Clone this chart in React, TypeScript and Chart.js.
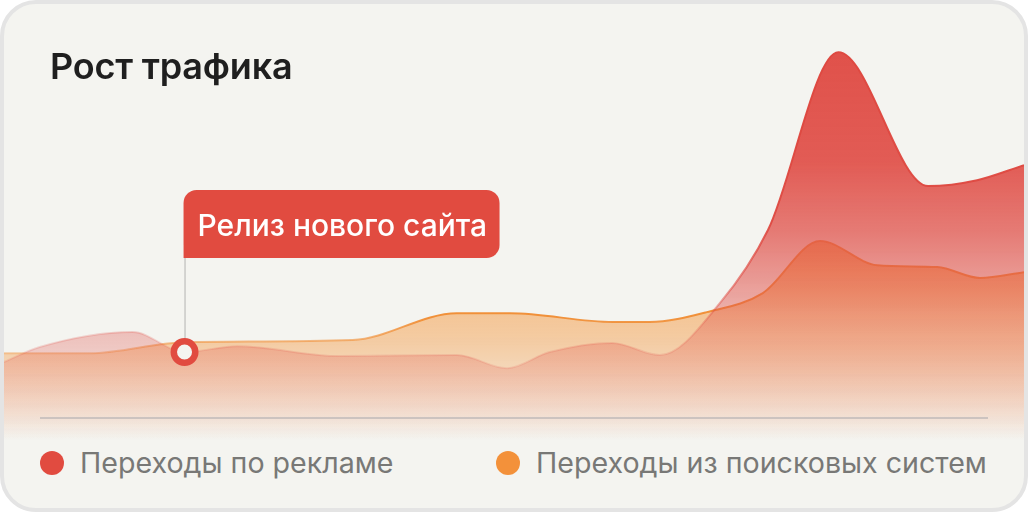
import React, { useEffect, useRef } from "react";
import { Chart, registerables } from "chart.js";

Chart.register(...registerables);

// Days since start (x) and visits, thousands (y)
const adsDays = [0, 3.5, 12.6, 17.7, 22.9, 32.9, 44.4, 49.3, 53.5, 59.6, 64.3, 70.2, 74.9, 81.8, 90.6, 95.4, 100];
const adsVisits = [15.3, 19.4, 23.5, 18.0, 19.6, 16.9, 17.2, 13.6, 18.0, 20.5, 17.2, 31.4, 51.3, 99.8, 63.3, 64.9, 69.0];

const searchDays = [0, 8.4, 17.7, 34.2, 44.4, 49.6, 59.7, 63.3, 68.9, 74.4, 80.0, 85.6, 91.5, 95.7, 100];
const searchVisits = [17.7, 17.7, 20.7, 21.3, 28.6, 28.6, 26.2, 26.2, 28.9, 34.1, 48.3, 41.7, 41.2, 38.2, 39.8];

const seriesNames = ["Переходы по рекламе", "Переходы из поисковых систем"];
const releaseIndex = 3;
const releaseLabel = "Релиз нового сайта";
const chartTitle = "Рост трафика";

const RED = [224, 81, 74];
const ORANGE = [244, 146, 52];
const BG = "#f4f4f0";

const rgba = (c: number[], a: number) => `rgba(${c[0]},${c[1]},${c[2]},${a})`;

function grad(chart: any, color: number[], stops: [number, number][]) {
  const area = chart.chartArea;
  if (!area) return rgba(color, 0.5);
  const g = chart.ctx.createLinearGradient(0, area.top, 0, area.bottom);
  stops.forEach(([p, a]) => g.addColorStop(p, rgba(color, a)));
  return g;
}

const annotationPlugin = {
  id: "release",
  beforeDatasetsDraw(chart: any) {
    const meta = chart.getDatasetMeta(0);
    const pt = meta.data[releaseIndex];
    if (!pt) return;
    const ctx = chart.ctx;
    ctx.save();
    ctx.strokeStyle = "#c9c9c6";
    ctx.lineWidth = 1.5;
    ctx.beginPath();
    ctx.moveTo(pt.x + 0.5, pt.y - 100);
    ctx.lineTo(pt.x + 0.5, pt.y);
    ctx.stroke();
    ctx.restore();
  },
  afterDatasetsDraw(chart: any) {
    const ctx = chart.ctx;
    const y0 = chart.scales.y.getPixelForValue(0);
    ctx.save();
    ctx.strokeStyle = "rgba(200,192,188,0.9)";
    ctx.lineWidth = 2;
    ctx.beginPath();
    ctx.moveTo(36, y0);
    ctx.lineTo(984, y0);
    ctx.stroke();

    const pt = chart.getDatasetMeta(0).data[releaseIndex];
    if (pt) {
      const left = pt.x - 1;
      const w = 316;
      const h = 68;
      const top = pt.y - 162;
      const r = 13;
      ctx.fillStyle = "#e14b40";
      ctx.beginPath();
      ctx.moveTo(left, top + r);
      ctx.arcTo(left, top, left + r, top, r);
      ctx.lineTo(left + w - r, top);
      ctx.arcTo(left + w, top, left + w, top + r, r);
      ctx.lineTo(left + w, top + h - r);
      ctx.arcTo(left + w, top + h, left + w - r, top + h, r);
      ctx.lineTo(left, top + h);
      ctx.closePath();
      ctx.fill();
      ctx.fillStyle = "#ffffff";
      ctx.font = '500 30px Inter, "Noto Sans", sans-serif';
      ctx.textBaseline = "alphabetic";
      ctx.fillText(releaseLabel, left + 14, top + 46);
    }
    ctx.restore();
  },
};

function LegendItem({ color, label }: { color: string; label: string }) {
  return (
    <div style={{ display: "flex", alignItems: "center" }}>
      <span
        style={{
          width: 24,
          height: 24,
          borderRadius: 12,
          background: color,
          display: "inline-block",
          marginRight: 16,
        }}
      />
      <span style={{ color: "#787876", fontSize: 28.6, lineHeight: "28px" }}>{label}</span>
    </div>
  );
}

export default function App() {
  const ref = useRef<HTMLCanvasElement | null>(null);

  useEffect(() => {
    document.body.style.margin = "0";
    if (!ref.current) return;
    const chart = new Chart(ref.current, {
      type: "line",
      data: {
        datasets: [
          {
            label: seriesNames[0],
            data: adsDays.map((d, i) => ({ x: d, y: adsVisits[i] })),
            fill: "start",
            cubicInterpolationMode: "monotone",
            borderWidth: 2,
            borderColor: (c: any) =>
              grad(c.chart, [222, 72, 64], [
                [0, 1],
                [0.5, 0.95],
                [0.66, 0.55],
                [0.76, 0.2],
                [1, 0],
              ]),
            backgroundColor: (c: any) =>
              grad(c.chart, RED, [
                [0.1, 1],
                [0.36, 0.94],
                [0.52, 0.75],
                [0.66, 0.5],
                [0.76, 0.31],
                [1, 0],
              ]),
            pointRadius: (c: any) => (c.dataIndex === releaseIndex ? 10.75 : 0),
            pointBorderWidth: 6.5,
            pointBorderColor: "#e14b40",
            pointBackgroundColor: BG,
            pointHoverRadius: 0,
          },
          {
            label: seriesNames[1],
            data: searchDays.map((d, i) => ({ x: d, y: searchVisits[i] })),
            fill: "start",
            cubicInterpolationMode: "monotone",
            borderWidth: 2,
            borderColor: (c: any) =>
              grad(c.chart, [240, 140, 50], [
                [0, 1],
                [0.72, 0.95],
                [0.79, 0.45],
                [0.82, 0.25],
                [1, 0],
              ]),
            backgroundColor: (c: any) =>
              grad(c.chart, ORANGE, [
                [0.54, 0.8],
                [0.71, 0.48],
                [0.78, 0.4],
                [1, 0],
              ]),
            pointRadius: 0,
            pointHoverRadius: 0,
          },
        ],
      },
      options: {
        responsive: false,
        animation: false,
        events: [],
        layout: { padding: 0 },
        scales: {
          x: { type: "linear", min: 0, max: 100, display: false },
          y: { min: -6, max: 113, display: false },
        },
        plugins: {
          legend: { display: false },
          tooltip: { enabled: false },
          title: { display: false },
        },
      },
      plugins: [annotationPlugin],
    } as any);
    return () => chart.destroy();
  }, []);

  return (
    <div
      style={{
        position: "absolute",
        left: 0,
        top: 0,
        width: 1028,
        height: 512,
        boxSizing: "border-box",
        border: "4px solid #e4e4e4",
        borderRadius: 36,
        background: BG,
        overflow: "hidden",
        fontFamily: 'Inter, "Noto Sans", sans-serif',
      }}
    >
      <canvas
        ref={ref}
        width={1020}
        height={436}
        style={{ position: "absolute", left: 0, top: 0, width: 1020, height: 436 }}
      />
      <div
        style={{
          position: "absolute",
          left: 46,
          top: 44,
          fontSize: 36,
          lineHeight: "36px",
          fontWeight: 600,
          color: "#1f1f1f",
          letterSpacing: -0.2,
        }}
      >
        {chartTitle}
      </div>
      <div style={{ position: "absolute", left: 36, top: 445 }}>
        <LegendItem color="#e14b40" label={seriesNames[0]} />
      </div>
      <div style={{ position: "absolute", left: 492, top: 445 }}>
        <LegendItem color="#f3913a" label={seriesNames[1]} />
      </div>
    </div>
  );
}
